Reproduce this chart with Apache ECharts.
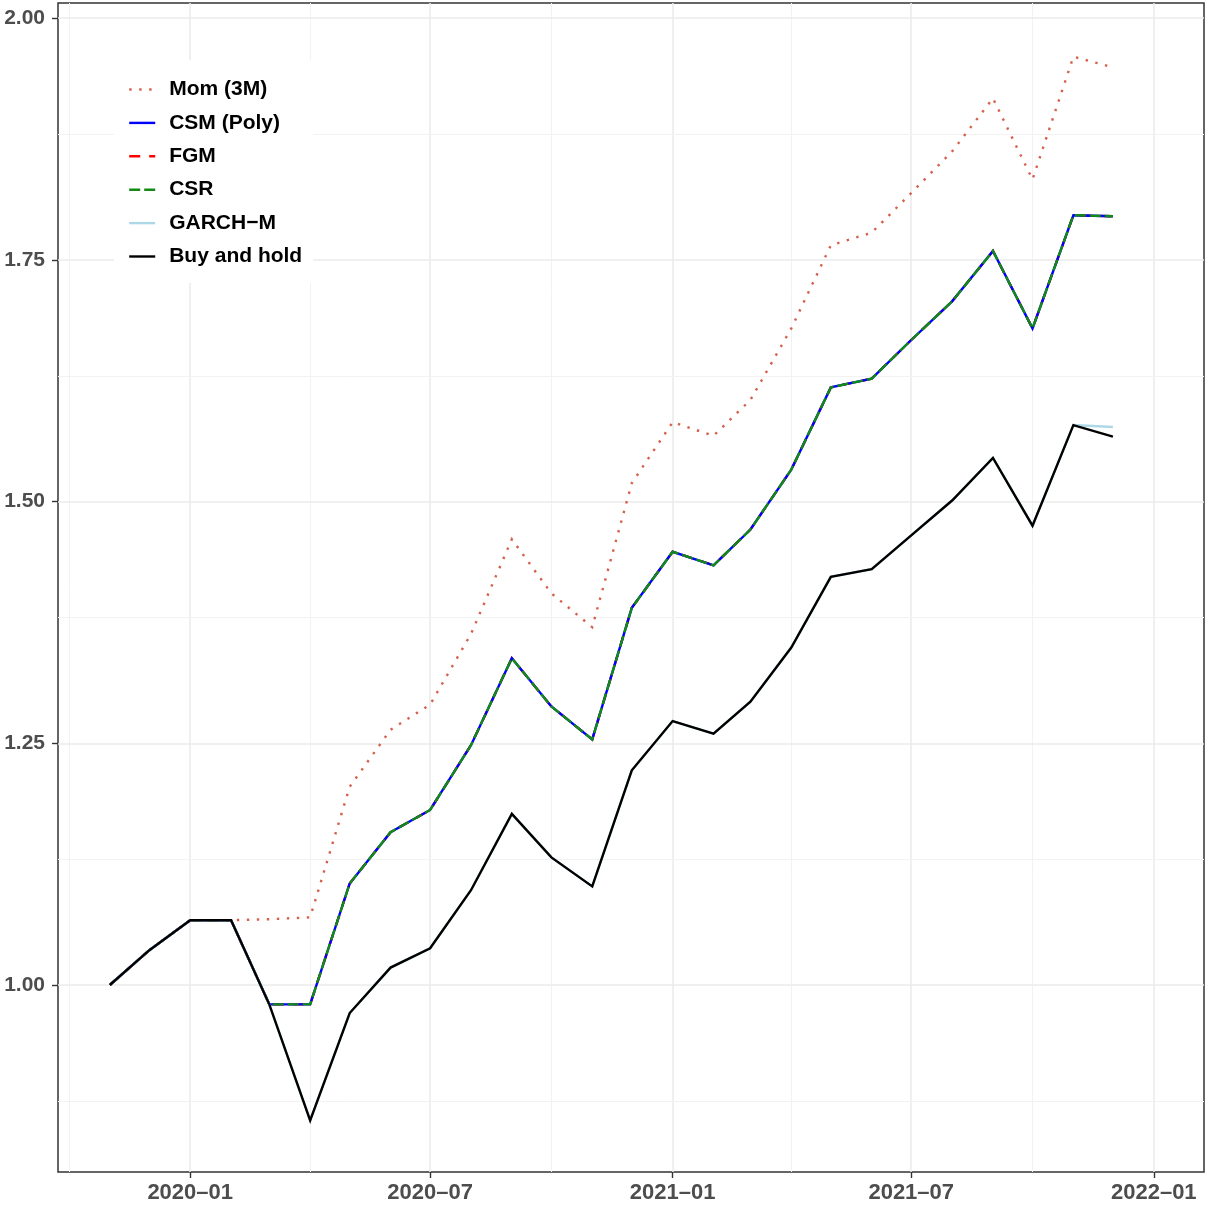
<!DOCTYPE html>
<html>
<head>
<meta charset="utf-8">
<script src="https://cdn.jsdelivr.net/npm/echarts@6/dist/echarts.min.js"></script>
<style>
html,body{margin:0;padding:0;background:#fff;}
#chart{width:1205px;height:1206px;}
</style>
</head>
<body>
<div id="chart"></div>
<script>
// ---- data ----
var months = ['2019-11','2019-12','2020-01','2020-02','2020-03','2020-04','2020-05','2020-06','2020-07','2020-08','2020-09','2020-10','2020-11','2020-12',
              '2021-01','2021-02','2021-03','2021-04','2021-05','2021-06','2021-07','2021-08','2021-09','2021-10','2021-11','2021-12'];
var momValues   = [1.000,1.036,1.067,1.067,1.068,1.070,1.205,1.264,1.290,1.363,1.461,1.405,1.370,1.519,1.582,1.568,1.605,1.679,1.765,1.778,1.819,1.862,1.917,1.833,1.960,1.949];
var csmValues   = [1.000,1.036,1.067,1.067,0.980,0.980,1.105,1.158,1.181,1.248,1.338,1.288,1.254,1.390,1.448,1.434,1.471,1.533,1.618,1.627,1.667,1.707,1.759,1.679,1.796,1.795];
var fgmValues   = [1.000,1.036,1.067,1.067,0.980,0.980,1.105,1.158,1.181,1.248,1.338,1.288,1.254,1.390,1.448,1.434,1.471,1.533,1.618,1.627,1.667,1.707,1.759,1.679,1.796,1.795];
var csrValues   = [1.000,1.036,1.067,1.067,0.980,0.980,1.105,1.158,1.181,1.248,1.338,1.288,1.254,1.390,1.448,1.434,1.471,1.533,1.618,1.627,1.667,1.707,1.759,1.679,1.796,1.795];
var garchValues = [1.000,1.036,1.067,1.067,0.980,0.860,0.971,1.018,1.038,1.098,1.177,1.132,1.102,1.222,1.273,1.260,1.293,1.349,1.422,1.430,1.465,1.501,1.545,1.475,1.579,1.577];
var bhValues    = [1.000,1.036,1.067,1.067,0.980,0.860,0.971,1.018,1.038,1.098,1.177,1.132,1.102,1.222,1.273,1.260,1.293,1.349,1.422,1.430,1.465,1.501,1.545,1.475,1.579,1.567];
var seriesNames = ['Mom (3M)','CSM (Poly)','FGM','CSR','GARCH\u2212M','Buy and hold'];
var xTickLabels = ['2020-01','2020-07','2021-01','2021-07','2022-01'];
var xMinorGrid  = ['2019-10','2020-04','2020-10','2021-04','2021-10'];
var yTicks      = [1.00,1.25,1.50,1.75,2.00];
var yMinorGrid  = [0.875,1.125,1.375,1.625,1.875];

// ---- helpers ----
function ts(m){ var p = m.split('-'); return Date.UTC(+p[0], +p[1]-1, 1); }
function pairs(vals){ return months.map(function(m,i){ return [ts(m), vals[i]]; }); }
var DAY = 86400000;
var xMin = ts('2020-01') - 100.3*DAY;
var xMax = ts('2022-01') + 38.1*DAY;
var yMin = 1 - 187/967;
var yMax = 1 + 982/967;
var font = "'Liberation Sans', Arial, Helvetica, sans-serif";

var gridLines = [];
xTickLabels.forEach(function(m){ gridLines.push({xAxis: ts(m), lineStyle:{color:'#EBEBEB', width:1.6, type:'solid'}}); });
xMinorGrid.forEach(function(m){ gridLines.push({xAxis: ts(m), lineStyle:{color:'#F2F2F2', width:1, type:'solid'}}); });
yTicks.forEach(function(v){ gridLines.push({yAxis: v, lineStyle:{color:'#EBEBEB', width:1.6, type:'solid'}}); });
yMinorGrid.forEach(function(v){ gridLines.push({yAxis: v, lineStyle:{color:'#F2F2F2', width:1, type:'solid'}}); });

function lineSeries(name, vals, color, type, width, z){
  return {
    name: name, type: 'line', data: pairs(vals), symbol: 'none', showSymbol: false,
    z: z, animation: false, silent: true,
    lineStyle: {color: color, width: width, type: type, cap: 'butt', join: 'miter'},
    itemStyle: {color: color}
  };
}

var chart = echarts.init(document.getElementById('chart'), null, {renderer:'canvas'});
chart.setOption({
  animation: false,
  backgroundColor: '#ffffff',
  grid: {left: 58, right: 1, top: 3, bottom: 34, show: true, borderColor: '#333333', borderWidth: 1.5, backgroundColor: 'transparent'},
  legend: {
    data: seriesNames,
    orient: 'vertical',
    z: 20,
    left: 114, top: 60,
    padding: [19, 11, 16, 14],
    backgroundColor: '#ffffff',
    itemWidth: 26, itemHeight: 14, itemGap: 12.4,
    itemStyle: {opacity: 0},
    lineStyle: {width: 2.4},
    textStyle: {fontFamily: font, fontSize: 21, fontWeight: 'bold', color: '#000000', padding: [0,0,0,9]},
    selectedMode: false
  },
  xAxis: {
    type: 'value', min: xMin, max: xMax,
    axisLine: {show: false},
    splitLine: {show: false},
    axisTick: {show: true, length: 6, lineStyle: {color: '#333333', width: 1.4}, customValues: xTickLabels.map(ts)},
    axisLabel: {
      customValues: xTickLabels.map(ts),
      margin: 10,
      fontFamily: font, fontSize: 22, fontWeight: 'bold', color: '#4D4D4D',
      formatter: function(v){ var d = new Date(v); var mm = d.getUTCMonth()+1; return d.getUTCFullYear() + '\u2013' + (mm<10?'0':'') + mm; }
    }
  },
  yAxis: {
    type: 'value', min: yMin, max: yMax,
    axisLine: {show: false},
    splitLine: {show: false},
    axisTick: {show: true, length: 6, lineStyle: {color: '#333333', width: 1.4}, customValues: yTicks},
    axisLabel: {
      customValues: yTicks,
      margin: 13,
      fontFamily: font, fontSize: 21, fontWeight: 'bold', color: '#4D4D4D',
      formatter: function(v){ return v.toFixed(2); }
    }
  },
  series: [
    {name: '_grid', type: 'line', data: [], z: 0, silent: true, animation: false,
     markLine: {z: 0, silent: true, symbol: ['none','none'], label: {show: false}, animation: false, data: gridLines}},
    lineSeries(seriesNames[0], momValues,   '#D5604C', [2.4, 7.6], 2.4, 3),
    lineSeries(seriesNames[1], csmValues,   '#0000FF', 'solid',   2.4, 4),
    lineSeries(seriesNames[2], fgmValues,   '#FF0000', [11, 9],   2.4, 2),
    lineSeries(seriesNames[3], csrValues,   '#138A13', [11, 4],   2.4, 5),
    lineSeries(seriesNames[4], garchValues, '#ADD8E6', 'solid',   2.4, 6),
    lineSeries(seriesNames[5], bhValues,    '#000000', 'solid',   2.4, 7)
  ]
});
</script>
</body>
</html>
